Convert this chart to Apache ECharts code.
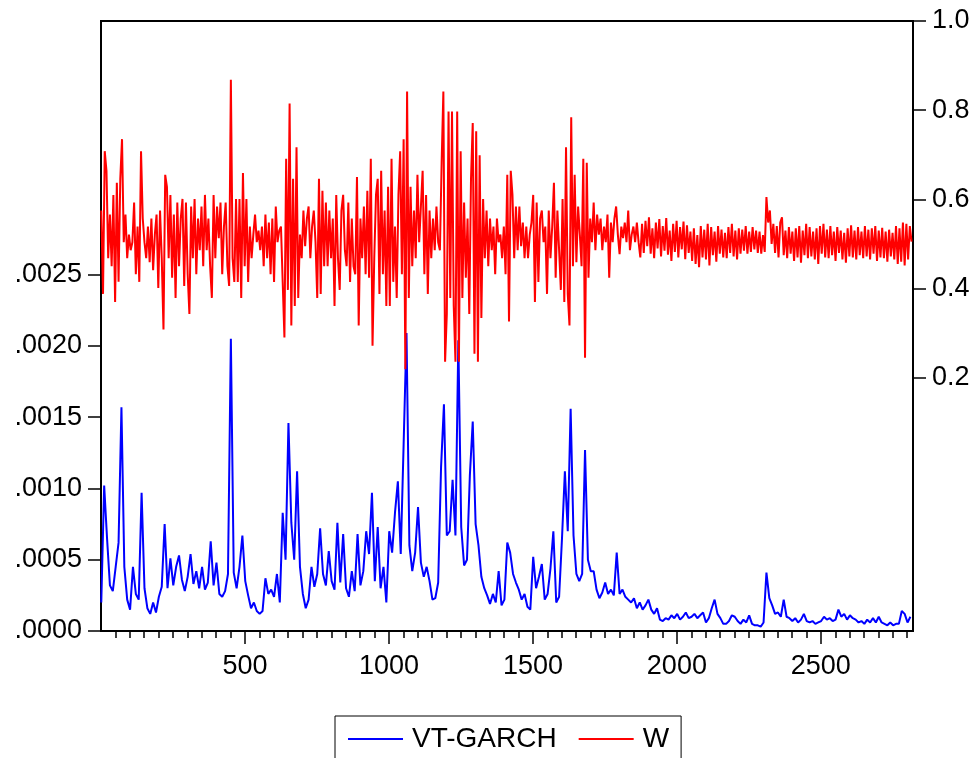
<!DOCTYPE html>
<html>
<head>
<meta charset="utf-8">
<script src="https://cdn.jsdelivr.net/npm/echarts@6/dist/echarts.min.js"></script>
<style>
html,body{margin:0;padding:0;background:#fff;}
#chart{width:978px;height:758px;}
</style>
</head>
<body>
<div id="chart"></div>
<script>
// VT-GARCH conditional variance (left axis), sampled every 10 observations starting at obs 1
var vtGarchStart = 1, vtGarchStep = 10;
var vtGarch = [
0.00020,0.00102,0.00065,0.00032,0.00028,0.00045,0.00062,0.00157,0.00045,0.00022,
0.00015,0.00045,0.00026,0.00022,0.00097,0.00030,0.00016,0.00012,0.00020,0.00013,
0.00024,0.00031,0.00075,0.00030,0.00051,0.00032,0.00045,0.00053,0.00036,0.00028,
0.00038,0.00054,0.00033,0.00042,0.00030,0.00045,0.00029,0.00034,0.00063,0.00032,
0.00048,0.00026,0.00024,0.00028,0.00040,0.00205,0.00041,0.00030,0.00045,0.00067,
0.00035,0.00025,0.00016,0.00020,0.00014,0.00012,0.00014,0.00037,0.00026,0.00029,
0.00024,0.00040,0.00020,0.00083,0.00050,0.00146,0.00076,0.00050,0.00112,0.00045,
0.00026,0.00016,0.00022,0.00045,0.00031,0.00040,0.00072,0.00040,0.00032,0.00056,
0.00035,0.00029,0.00076,0.00034,0.00068,0.00030,0.00024,0.00042,0.00028,0.00068,
0.00032,0.00042,0.00070,0.00054,0.00097,0.00035,0.00073,0.00030,0.00045,0.00020,
0.00070,0.00055,0.00083,0.00105,0.00054,0.00131,0.00209,0.00060,0.00042,0.00055,
0.00087,0.00048,0.00038,0.00045,0.00035,0.00022,0.00023,0.00034,0.00115,0.00159,
0.00067,0.00070,0.00106,0.00067,0.00204,0.00073,0.00046,0.00050,0.00109,0.00147,
0.00075,0.00060,0.00038,0.00030,0.00025,0.00019,0.00026,0.00020,0.00042,0.00018,
0.00022,0.00062,0.00055,0.00040,0.00034,0.00029,0.00022,0.00026,0.00017,0.00015,
0.00052,0.00030,0.00038,0.00047,0.00022,0.00026,0.00044,0.00070,0.00020,0.00024,
0.00065,0.00112,0.00070,0.00156,0.00067,0.00040,0.00035,0.00040,0.00127,0.00050,
0.00042,0.00042,0.00029,0.00023,0.00027,0.00034,0.00026,0.00029,0.00025,0.00055,
0.00026,0.00029,0.00024,0.00022,0.00020,0.00023,0.00016,0.00020,0.00015,0.00018,
0.00022,0.00015,0.00012,0.00016,0.00008,0.00007,0.00009,0.00008,0.00011,0.00009,
0.00012,0.00008,0.00010,0.00013,0.00009,0.00010,0.00012,0.00009,0.00011,0.00013,
0.00006,0.00009,0.00016,0.00022,0.00012,0.00009,0.00005,0.00005,0.00007,0.00011,
0.00010,0.00007,0.00005,0.00008,0.00006,0.00011,0.00005,0.00004,0.00004,0.00003,
0.00006,0.00041,0.00023,0.00018,0.00012,0.00013,0.00010,0.00022,0.00010,0.00009,
0.00007,0.00009,0.00006,0.00008,0.00012,0.00007,0.00006,0.00007,0.00005,0.00006,
0.00007,0.00010,0.00008,0.00009,0.00007,0.00008,0.00015,0.00010,0.00012,0.00008,
0.00011,0.00009,0.00008,0.00006,0.00007,0.00005,0.00008,0.00006,0.00009,0.00006,
0.00010,0.00006,0.00005,0.00004,0.00006,0.00004,0.00005,0.00005,0.00014,0.00012,0.00006,0.00010
];

// W (right axis), sampled every 6 observations starting at obs 1
var wStart = 1, wStep = 6;
var wSeries = [
0.575,0.388,0.708,0.664,0.468,0.566,0.450,0.610,0.370,0.637,
0.415,0.646,0.735,0.504,0.566,0.468,0.521,0.486,0.504,0.593,
0.432,0.539,0.415,0.708,0.557,0.504,0.468,0.539,0.459,0.557,
0.441,0.521,0.566,0.401,0.575,0.468,0.308,0.655,0.628,0.468,
0.610,0.424,0.566,0.379,0.593,0.450,0.557,0.601,0.406,0.593,
0.432,0.343,0.584,0.468,0.601,0.432,0.557,0.486,0.584,0.450,
0.610,0.486,0.557,0.450,0.379,0.610,0.468,0.584,0.513,0.593,
0.432,0.539,0.593,0.450,0.406,0.868,0.468,0.415,
0.601,0.415,0.601,0.379,0.659,0.450,0.601,0.415,0.539,0.468,
0.521,0.566,0.504,0.530,0.486,0.539,0.450,0.566,0.468,0.548,
0.432,0.557,0.415,0.584,0.504,0.530,0.539,0.415,0.290,0.691,
0.397,0.815,0.317,0.646,0.361,0.717,0.379,0.521,0.468,0.575,
0.495,0.557,0.584,0.468,0.539,0.575,0.504,0.379,0.646,0.388,
0.619,0.450,0.593,0.450,0.575,0.468,0.557,0.361,0.610,0.468,
0.397,0.575,0.610,0.486,0.450,0.593,0.415,0.557,0.450,0.432,
0.650,0.317,0.557,0.468,0.584,0.432,0.619,0.424,
0.691,0.272,0.468,0.610,0.646,0.388,0.664,0.432,0.575,0.361,
0.628,0.361,0.691,0.415,0.539,0.379,0.610,0.708,0.432,0.735,
0.219,0.842,0.379,0.628,0.450,0.575,0.468,0.655,0.504,0.584,
0.664,0.432,0.610,0.388,0.575,0.468,0.557,0.486,0.584,0.504,
0.486,0.682,0.842,0.236,0.343,
0.797,0.379,0.797,0.361,0.236,0.797,0.236,0.708,0.379,0.593,
0.424,0.557,0.343,0.646,0.771,0.254,0.753,0.236,0.699,0.334,
0.601,0.468,0.575,0.450,0.557,0.486,0.539,0.432,0.557,0.504,0.521,0.468,0.539,
0.432,0.655,0.326,0.664,0.610,0.468,0.584,0.486,0.584,0.495,
0.548,0.468,0.539,0.468,0.521,0.548,0.610,0.370,0.593,0.415,
0.557,0.575,0.504,0.539,0.388,0.575,0.468,0.539,0.637,0.424,
0.575,0.486,0.397,0.601,0.370,0.717,0.388,0.317,0.784,0.450,
0.655,0.459,0.584,0.521,0.450,0.691,0.245,0.682,0.424,0.557,
0.504,0.593,0.486,0.566,0.521,0.557,0.486,0.539,0.504,0.566,
0.424,0.548,0.504,0.557,0.584,0.521,0.477,0.539,0.513,0.548,
0.504,0.575,0.486,0.521,0.539,0.504,0.548,0.504,
0.470,0.545,0.480,0.552,0.495,0.560,0.478,0.535,0.468,
0.548,0.490,0.556,0.472,0.540,0.485,0.558,0.476,0.530,0.462,
0.545,0.482,0.552,0.470,0.538,0.488,0.550,0.466,0.542,0.480,
0.528,0.462,0.535,0.455,0.520,0.448,0.540,0.470,0.532,0.465,
0.545,0.452,0.538,0.475,0.528,0.460,0.540,0.478,0.532,0.470,
0.525,0.468,0.538,0.480,0.545,0.472,0.530,0.465,0.535,0.478,
0.532,0.485,0.540,0.478,0.528,0.482,0.538,0.488,0.530,0.480,
0.528,0.478,0.520,0.482,0.605,0.548,0.575,0.500,0.545,
0.480,0.540,0.470,0.548,0.560,0.475,0.530,0.468,0.538,0.478,
0.528,0.462,0.535,0.470,0.540,0.458,0.530,0.475,0.545,0.468,
0.538,0.472,0.528,0.465,0.535,0.455,0.540,0.478,0.545,0.470,
0.532,0.468,0.540,0.475,0.528,0.462,0.538,0.480,0.530,0.465,
0.525,0.458,0.535,0.472,0.542,0.470,0.530,0.465,0.538,0.475,
0.528,0.468,0.540,0.472,0.532,0.465,0.535,0.478,0.540,0.462,
0.530,0.470,0.536,0.468,0.528,0.460,0.532,0.472,0.525,0.465,
0.540,0.455,0.535,0.460,0.548,0.452,0.545,0.465,0.540,0.505
];

// tick labels
var xTickLabels = [500, 1000, 1500, 2000, 2500];
var leftTickLabels = [0, 0.0005, 0.0010, 0.0015, 0.0020, 0.0025];
var rightTickLabels = [0.2, 0.4, 0.6, 0.8, 1.0];
var seriesNames = ['VT-GARCH', 'W'];

var xMinorTicks = [];
for (var t = 50; t <= 2800; t += 50) xMinorTicks.push(t);

function toPairs(vals, start, step) {
  return vals.map(function (v, k) { return [start + k * step, v]; });
}

var FONT = 'Liberation Sans, Arial, sans-serif';
var TICK = {color: '#000', width: 1.5};
var chart = echarts.init(document.getElementById('chart'), null, {renderer: 'canvas'});
chart.setOption({
  animation: false,
  backgroundColor: '#fff',
  grid: {left: 101, right: 65, top: 21, bottom: 127, show: true, borderColor: '#000', borderWidth: 2, backgroundColor: 'transparent'},
  legend: {
    left: 335, top: 716, orient: 'horizontal',
    itemWidth: 55, itemHeight: 2, icon: 'rect', itemGap: 22,
    borderColor: '#000', borderWidth: 1, padding: [9, 12, 9, 13],
    textStyle: {fontSize: 28, color: '#000', fontFamily: FONT, padding: [0, 0, 0, 4]},
    data: seriesNames
  },
  xAxis: [
    {type: 'value', min: 0, max: 2820, position: 'bottom',
     axisLine: {show: false, onZero: false}, splitLine: {show: false},
     axisTick: {show: true, length: 7, customValues: xMinorTicks, lineStyle: TICK},
     axisLabel: {show: false}},
    {type: 'value', min: 0, max: 2820, position: 'bottom',
     axisLine: {show: false, onZero: false}, splitLine: {show: false},
     axisTick: {show: true, length: 13, customValues: xTickLabels, lineStyle: TICK},
     axisLabel: {show: true, customValues: xTickLabels, fontSize: 27, margin: 22, color: '#000', fontFamily: FONT,
       formatter: function (v) { return String(v); }}}
  ],
  yAxis: [
    {type: 'value', min: 0, max: 0.00428, position: 'left',
     axisLine: {show: false, onZero: false}, splitLine: {show: false},
     axisTick: {show: true, length: 13, customValues: leftTickLabels, lineStyle: TICK},
     axisLabel: {show: true, customValues: leftTickLabels, fontSize: 27, margin: 19, color: '#000', fontFamily: FONT,
       formatter: function (v) { return v.toFixed(4).replace(/^0/, ''); }}},
    {type: 'value', min: -0.368, max: 1.0, position: 'right',
     axisLine: {show: false, onZero: false}, splitLine: {show: false},
     axisTick: {show: true, length: 13, customValues: rightTickLabels, lineStyle: TICK},
     axisLabel: {show: true, customValues: rightTickLabels, fontSize: 27, margin: 19, color: '#000', fontFamily: FONT,
       formatter: function (v) { return v.toFixed(1); }}}
  ],
  series: [
    {name: seriesNames[0], type: 'line', xAxisIndex: 0, yAxisIndex: 0, showSymbol: false, symbol: 'none',
     data: toPairs(vtGarch, vtGarchStart, vtGarchStep),
     lineStyle: {color: '#0000ff', width: 2}, itemStyle: {color: '#0000ff'}},
    {name: seriesNames[1], type: 'line', xAxisIndex: 0, yAxisIndex: 1, showSymbol: false, symbol: 'none',
     data: toPairs(wSeries, wStart, wStep),
     lineStyle: {color: '#ff0000', width: 2}, itemStyle: {color: '#ff0000'}}
  ]
});
</script>
</body>
</html>
